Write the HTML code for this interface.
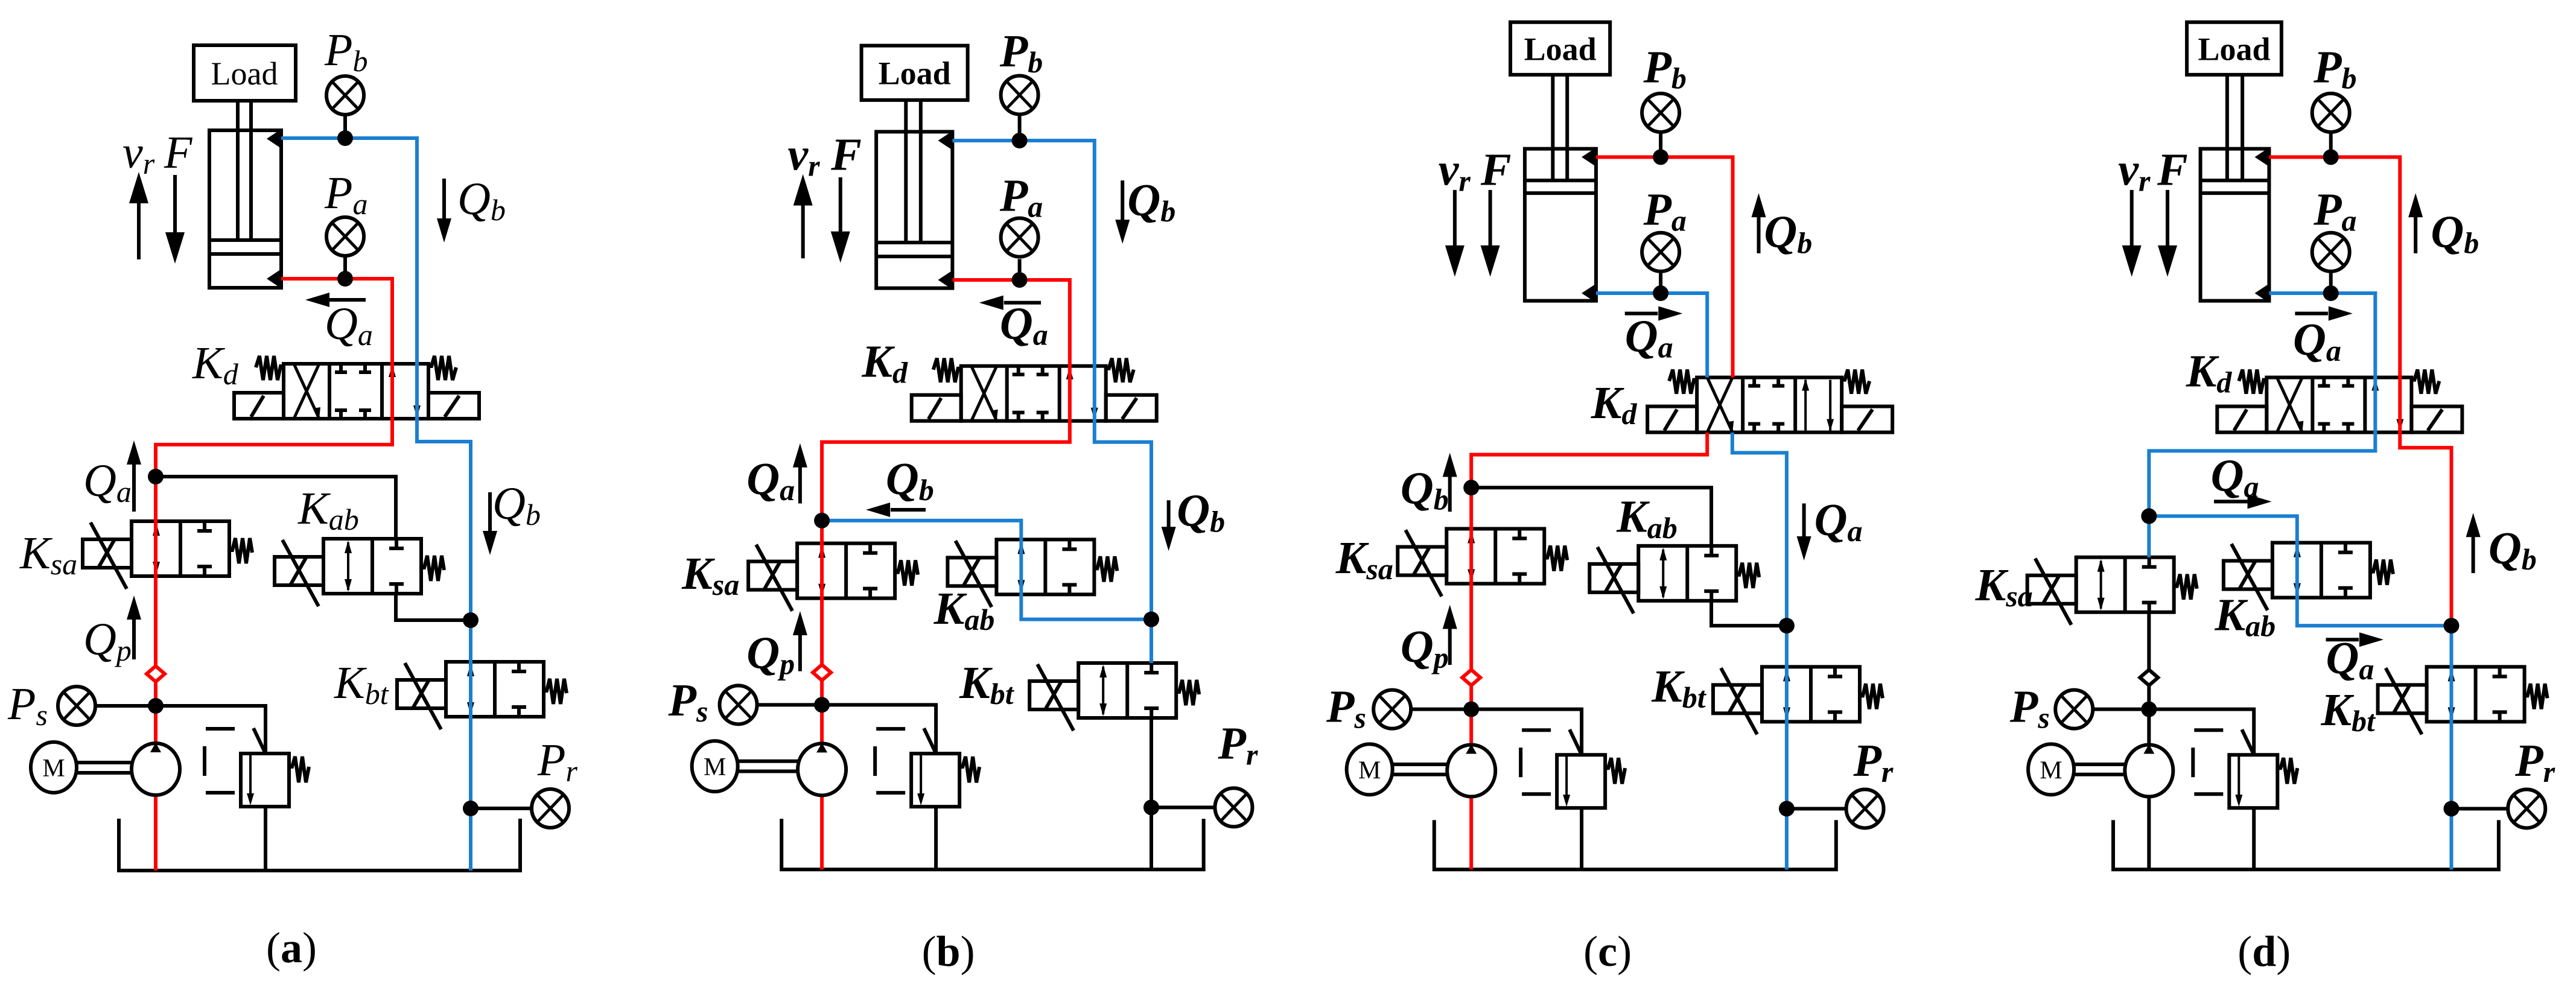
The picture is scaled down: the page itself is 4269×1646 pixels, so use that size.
<!DOCTYPE html>
<html><head><meta charset="utf-8">
<style>
html,body{margin:0;padding:0;background:#fff}
svg{display:block}
.k{fill:none;stroke:#000;stroke-width:6}
.r{fill:none;stroke:#f00;stroke-width:6}
.b{fill:none;stroke:#1b7fd1;stroke-width:6}
.z .k,.z .r,.z .b{vector-effect:non-scaling-stroke}
.L{font-family:"Liberation Serif",serif;font-style:italic;font-size:76px;fill:#000}
.z .L{font-weight:bold}
.s{font-size:50px}
.ld{font-family:"Liberation Serif",serif;font-size:54px;text-anchor:middle}
.z .ld{font-weight:bold}
.cap{font-family:"Liberation Serif",serif;font-size:72px;text-anchor:middle}
</style></head><body>
<svg width="4269" height="1646" viewBox="0 0 4269 1646" xmlns="http://www.w3.org/2000/svg">
<defs>
<g id="gauge"><ellipse rx="31" ry="32" fill="#fff" stroke="#000" stroke-width="6"/><path d="M-21,-22L21,22M21,-22L-21,22" stroke="#000" stroke-width="5"/></g>
<circle id="dot" r="13" fill="#000"/>
<g id="v2">
<rect x="0" y="0" width="162" height="91" fill="none" stroke="#000" stroke-width="6"/>
<path d="M81,0V91M121,0V16M109,16H133M121,91V75M109,75H133" stroke="#000" stroke-width="6" fill="none"/>
<path d="M41,6V85" stroke="#000" stroke-width="4"/>
<polygon points="41,3 35,24 47,24"/><polygon points="41,88 35,67 47,67"/>
<rect x="-81" y="30" width="81" height="47" fill="none" stroke="#000" stroke-width="6"/>
<path d="M-68,2L-8,112M-55,77L-28,30" stroke="#000" stroke-width="6"/>
<path d="M162,48H167L172,28L178,70L184,28L190,70L196,28L200,52" fill="none" stroke="#000" stroke-width="6"/>
</g>
<g id="kd">
<rect x="0" y="0" width="240" height="91" fill="none" stroke="#000" stroke-width="6"/>
<path d="M76,0V91M163,0V91" stroke="#000" stroke-width="6"/>
<path d="M17,0L59,91M59,0L17,91" stroke="#000" stroke-width="5"/>
<polygon points="59,91 49,74 61,72"/>
<path d="M95,0V14M85,14H105M135,0V14M125,14H145M95,91V77M85,77H105M135,91V77M125,77H145" stroke="#000" stroke-width="6" fill="none"/>
<path d="M180,4V88M221,4V88" stroke="#000" stroke-width="4"/>
<polygon points="180,2 174,22 186,22"/><polygon points="221,89 215,69 227,69"/>
<rect x="-82" y="48" width="82" height="43" fill="none" stroke="#000" stroke-width="6"/>
<rect x="240" y="48" width="84" height="43" fill="none" stroke="#000" stroke-width="6"/>
<path d="M-54,88L-33,53M267,88L291,53" stroke="#000" stroke-width="6"/>
<path d="M-46,6L-40,-13L-34,27L-28,-13L-22,27L-16,-13L-10,27L-5,4H0" fill="none" stroke="#000" stroke-width="6"/>
<path d="M240,4H245L250,-13L256,27L262,-13L268,27L274,-13L280,27L286,6" fill="none" stroke="#000" stroke-width="6"/>
</g>
<g id="pump"><ellipse rx="40" ry="43" fill="#fff" stroke="#000" stroke-width="6"/><polygon points="-9,-28 9,-28 0,-44"/></g>
<g id="motor"><ellipse rx="38" ry="42" fill="#fff" stroke="#000" stroke-width="6"/><text x="0" y="15" font-family="Liberation Serif" font-size="42" text-anchor="middle">M</text></g>
<g id="rv">
<rect x="0" y="0" width="80" height="88" fill="#fff" stroke="#000" stroke-width="6"/>
<path d="M16,2V70" stroke="#000" stroke-width="4"/><polygon points="16,86 10,66 22,66"/>
<path d="M21,-42L41,0" stroke="#000" stroke-width="6"/>
<path d="M80,22H85L90,5L96,48L102,5L108,48L113,22" fill="none" stroke="#000" stroke-width="6"/>
<path d="M-58,-41H-10M-60,-12V37M-58,65H-10" stroke="#000" stroke-width="6"/>
</g>
<path id="cvr" d="M0,-13L15,0L0,13L-15,0Z" fill="#fff" stroke="#f00" stroke-width="6"/>
<path id="cvk" d="M0,-13L15,0L0,13L-15,0Z" fill="#fff" stroke="#000" stroke-width="6"/>
<polygon id="hu" points="0,0 -12,40 12,40"/>
<polygon id="hd" points="0,0 -12,-40 12,-40"/>
<polygon id="hl" points="0,0 40,-12 40,12"/>
<polygon id="hr" points="0,0 -40,-12 -40,12"/>
<polygon id="bu" points="0,0 -16,52 16,52"/>
<polygon id="bd" points="0,0 -16,-52 16,-52"/>
</defs>

<!-- ============ PANEL A ============ -->
<g>
<rect x="321" y="75" width="169" height="92" class="k"/>
<text x="405" y="140" class="ld">Load</text>
<path class="k" d="M394,167V398M416,167V398"/>
<rect x="347" y="216" width="119" height="261" class="k"/>
<path class="k" d="M347,398H466M347,421H466"/>
<polygon points="466,214 466,246 442,230"/><polygon points="466,446 466,478 442,462"/>
<use href="#kd" x="470" y="603"/>
<use href="#v2" x="218" y="864"/>
<use href="#v2" x="536" y="893"/>
<use href="#v2" x="739" y="1097"/>
<path class="k" d="M258,790H656V893M656,984V1028H780"/>
<path class="k" d="M158,1170H440V1249"/>
<path class="k" d="M127,1264H218M127,1281H218"/>
<path class="k" d="M440,1337V1443"/>
<path class="k" d="M780,1340H881"/>
<path class="k" d="M197,1357V1443H862V1357"/>
<path class="k" d="M572,190V229M572,424V462"/>
<path class="b" d="M466,229H691V732H780V1443"/>
<path class="r" d="M466,462H650V737H258V1443"/>
<use href="#rv" x="399" y="1249"/>
<use href="#motor" x="89" y="1272"/>
<use href="#pump" x="258" y="1275"/>
<use href="#cvr" x="258" y="1117"/>
<use href="#gauge" x="572" y="158"/><use href="#gauge" x="572" y="392"/>
<use href="#gauge" x="127" y="1170"/><use href="#gauge" x="912" y="1340"/>
<use href="#dot" x="572" y="229"/><use href="#dot" x="572" y="462"/>
<use href="#dot" x="258" y="790"/><use href="#dot" x="780" y="1028"/>
<use href="#dot" x="258" y="1170"/><use href="#dot" x="780" y="1340"/>
<path class="k" d="M230,430V320M290,290V395M736,296V370M606,497H540M222,848V760M812,816V885M222,1093V1020"/>
<use href="#bu" x="230" y="285"/><use href="#bd" x="290" y="437"/>
<use href="#hd" x="736" y="402"/><use href="#hl" x="506" y="497"/>
<use href="#hu" x="222" y="730"/><use href="#hd" x="812" y="920"/><use href="#hu" x="222" y="987"/>
<text x="538" y="108" class="L">P<tspan class="s" dy="10">b</tspan></text>
<text x="538" y="345" class="L">P<tspan class="s" dy="10">a</tspan></text>
<text x="203" y="278" class="L">v<tspan class="s" dy="10">r</tspan></text>
<text x="272" y="278" class="L">F</text>
<text x="758" y="355" class="L">Q<tspan class="s" dy="10">b</tspan></text>
<text x="538" y="562" class="L">Q<tspan class="s" dy="10">a</tspan></text>
<text x="319" y="627" class="L">K<tspan class="s" dy="10">d</tspan></text>
<text x="138" y="822" class="L">Q<tspan class="s" dy="10">a</tspan></text>
<text x="494" y="868" class="L">K<tspan class="s" dy="10">ab</tspan></text>
<text x="816" y="860" class="L">Q<tspan class="s" dy="10">b</tspan></text>
<text x="33" y="942" class="L">K<tspan class="s" dy="10">sa</tspan></text>
<text x="138" y="1085" class="L">Q<tspan class="s" dy="10">p</tspan></text>
<text x="13" y="1192" class="L">P<tspan class="s" dy="10">s</tspan></text>
<text x="554" y="1157" class="L">K<tspan class="s" dy="10">bt</tspan></text>
<text x="891" y="1285" class="L">P<tspan class="s" dy="10">r</tspan></text>
<text x="483" y="1595" class="cap">(<tspan font-weight="bold">a</tspan>)</text>
</g>

<!-- ============ PANEL B ============ -->
<g class="z" transform="translate(1070,0) scale(0.6824,1.0497)">
<rect x="524" y="72" width="258" height="86" class="k"/>
<g transform="translate(653,133) scale(1.4654,0.9527)"><text class="ld">Load</text></g>
<path class="k" d="M632,158V383M668,158V383"/>
<rect x="560" y="208" width="185" height="247" class="k"/>
<path class="k" d="M560,383H745M560,405H745"/>
<polygon points="745,207 745,237 710,222"/><polygon points="745,427 745,457 710,442"/>
<use href="#kd" transform="translate(766,578) scale(1.4654,0.9527)"/>
<use href="#v2" transform="translate(368,858) scale(1.4654,0.9527)"/>
<use href="#v2" transform="translate(852,852) scale(1.4654,0.9527)"/>
<use href="#v2" transform="translate(1051,1047) scale(1.4654,0.9527)"/>
<path class="k" d="M1228,1134V1373M1228,1275H1383M268,1113H705V1190M222,1202H370M222,1218H370M705,1274V1373M330,1293V1373H1355V1293M908,183V222M908,409V442"/>
<path class="b" d="M745,222H1090V698H1228V1047M428,822H912V978H1228"/>
<path class="r" d="M745,442H1030V698H428V1373"/>
<use href="#rv" transform="translate(645,1190) scale(1.4654,0.9527)"/>
<use href="#motor" transform="translate(168,1210) scale(1.4654,0.9527)"/>
<use href="#pump" transform="translate(428,1215) scale(1.4654,0.9527)"/>
<use href="#cvr" transform="translate(428,1062) scale(1.4654,0.9527)"/>
<use href="#gauge" transform="translate(908,150) scale(1.4654,0.9527)"/>
<use href="#gauge" transform="translate(908,375) scale(1.4654,0.9527)"/>
<use href="#gauge" transform="translate(225,1113) scale(1.4654,0.9527)"/>
<use href="#gauge" transform="translate(1428,1275) scale(1.4654,0.9527)"/>
<use href="#dot" transform="translate(908,222) scale(1.4654,0.9527)"/>
<use href="#dot" transform="translate(908,442) scale(1.4654,0.9527)"/>
<use href="#dot" transform="translate(428,822) scale(1.4654,0.9527)"/>
<use href="#dot" transform="translate(1228,978) scale(1.4654,0.9527)"/>
<use href="#dot" transform="translate(428,1113) scale(1.4654,0.9527)"/>
<use href="#dot" transform="translate(1228,1275) scale(1.4654,0.9527)"/>
<path class="k" d="M382,408V300M473,280V390M1158,285V350M960,478H870M375,795V735M680,805H595M1270,790V835M375,1060V1000"/>
<use href="#bu" transform="translate(382,275) scale(1.4654,0.9527)"/>
<use href="#bd" transform="translate(473,415) scale(1.4654,0.9527)"/>
<use href="#hd" transform="translate(1158,385) scale(1.4654,0.9527)"/>
<use href="#hl" transform="translate(810,478) scale(1.4654,0.9527)"/>
<use href="#hu" transform="translate(375,700) scale(1.4654,0.9527)"/>
<use href="#hl" transform="translate(535,805) scale(1.4654,0.9527)"/>
<use href="#hd" transform="translate(1270,870) scale(1.4654,0.9527)"/>
<use href="#hu" transform="translate(375,965) scale(1.4654,0.9527)"/>
<g transform="translate(860,105) scale(1.4654,0.9527)"><text class="L">P<tspan class="s" dy="10">b</tspan></text></g>
<g transform="translate(860,333) scale(1.4654,0.9527)"><text class="L">P<tspan class="s" dy="10">a</tspan></text></g>
<g transform="translate(345,268) scale(1.4654,0.9527)"><text class="L">v<tspan class="s" dy="10">r</tspan></text></g>
<g transform="translate(450,268) scale(1.4654,0.9527)"><text class="L">F</text></g>
<g transform="translate(1170,340) scale(1.4654,0.9527)"><text class="L">Q<tspan class="s" dy="10">b</tspan></text></g>
<g transform="translate(860,535) scale(1.4654,0.9527)"><text class="L">Q<tspan class="s" dy="10">a</tspan></text></g>
<g transform="translate(525,595) scale(1.4654,0.9527)"><text class="L">K<tspan class="s" dy="10">d</tspan></text></g>
<g transform="translate(245,780) scale(1.4654,0.9527)"><text class="L">Q<tspan class="s" dy="10">a</tspan></text></g>
<g transform="translate(583,780) scale(1.4654,0.9527)"><text class="L">Q<tspan class="s" dy="10">b</tspan></text></g>
<g transform="translate(1290,830) scale(1.4654,0.9527)"><text class="L">Q<tspan class="s" dy="10">b</tspan></text></g>
<g transform="translate(88,930) scale(1.4654,0.9527)"><text class="L">K<tspan class="s" dy="10">sa</tspan></text></g>
<g transform="translate(700,985) scale(1.4654,0.9527)"><text class="L">K<tspan class="s" dy="10">ab</tspan></text></g>
<g transform="translate(245,1055) scale(1.4654,0.9527)"><text class="L">Q<tspan class="s" dy="10">p</tspan></text></g>
<g transform="translate(55,1130) scale(1.4654,0.9527)"><text class="L">P<tspan class="s" dy="10">s</tspan></text></g>
<g transform="translate(762,1102) scale(1.4654,0.9527)"><text class="L">K<tspan class="s" dy="10">bt</tspan></text></g>
<g transform="translate(1390,1198) scale(1.4654,0.9527)"><text class="L">P<tspan class="s" dy="10">r</tspan></text></g>
<g transform="translate(735,1525) scale(1.4654,0.9527)"><text class="cap">(<tspan font-weight="bold">b</tspan>)</text></g>
</g>

<!-- ============ PANEL C ============ -->
<g class="z" transform="translate(2140,0) scale(0.6824,1.0497)">
<rect x="532" y="35" width="242" height="83" class="k"/>
<g transform="translate(653,95) scale(1.4654,0.9527)"><text class="ld">Load</text></g>
<path class="k" d="M635,118V285M670,118V285"/>
<rect x="567" y="235" width="173" height="240" class="k"/>
<path class="k" d="M567,285H740M567,305H740"/>
<polygon points="740,233 740,263 705,248"/><polygon points="740,448 740,478 705,463"/>
<use href="#kd" transform="translate(985,596) scale(1.4654,0.9527)"/>
<use href="#v2" transform="translate(377,835) scale(1.4654,0.9527)"/>
<use href="#v2" transform="translate(843,862) scale(1.4654,0.9527)"/>
<use href="#v2" transform="translate(1143,1053) scale(1.4654,0.9527)"/>
<path class="k" d="M437,770H1020V862M1020,949V988H1203M290,1120H705V1192M246,1207H378M246,1223H378M705,1276V1373M347,1295V1373H1323V1295M1203,1277H1348M897,210V248M897,430V463"/>
<path class="r" d="M740,248H1072V596M1010,683V718H437V1373"/>
<path class="b" d="M740,463H1010V596M1071,683V715H1203V1373"/>
<use href="#rv" transform="translate(645,1192) scale(1.4654,0.9527)"/>
<use href="#motor" transform="translate(190,1215) scale(1.4654,0.9527)"/>
<use href="#pump" transform="translate(437,1217) scale(1.4654,0.9527)"/>
<use href="#cvr" transform="translate(437,1070) scale(1.4654,0.9527)"/>
<use href="#gauge" transform="translate(897,178) scale(1.4654,0.9527)"/>
<use href="#gauge" transform="translate(897,398) scale(1.4654,0.9527)"/>
<use href="#gauge" transform="translate(245,1120) scale(1.4654,0.9527)"/>
<use href="#gauge" transform="translate(1393,1277) scale(1.4654,0.9527)"/>
<use href="#dot" transform="translate(897,248) scale(1.4654,0.9527)"/>
<use href="#dot" transform="translate(897,463) scale(1.4654,0.9527)"/>
<use href="#dot" transform="translate(437,770) scale(1.4654,0.9527)"/>
<use href="#dot" transform="translate(1203,988) scale(1.4654,0.9527)"/>
<use href="#dot" transform="translate(437,1120) scale(1.4654,0.9527)"/>
<use href="#dot" transform="translate(1203,1277) scale(1.4654,0.9527)"/>
<path class="k" d="M397,300V400M483,300V400M1135,400V343M810,495H890M385,808V753M1245,795V847M385,1050V993"/>
<use href="#bd" transform="translate(397,437) scale(1.4654,0.9527)"/>
<use href="#bd" transform="translate(483,437) scale(1.4654,0.9527)"/>
<use href="#hu" transform="translate(1135,305) scale(1.4654,0.9527)"/>
<use href="#hr" transform="translate(950,495) scale(1.4654,0.9527)"/>
<use href="#hu" transform="translate(385,715) scale(1.4654,0.9527)"/>
<use href="#hd" transform="translate(1245,885) scale(1.4654,0.9527)"/>
<use href="#hu" transform="translate(385,955) scale(1.4654,0.9527)"/>
<g transform="translate(855,130) scale(1.4654,0.9527)"><text class="L">P<tspan class="s" dy="10">b</tspan></text></g>
<g transform="translate(855,355) scale(1.4654,0.9527)"><text class="L">P<tspan class="s" dy="10">a</tspan></text></g>
<g transform="translate(357,292) scale(1.4654,0.9527)"><text class="L">v<tspan class="s" dy="10">r</tspan></text></g>
<g transform="translate(460,292) scale(1.4654,0.9527)"><text class="L">F</text></g>
<g transform="translate(1148,390) scale(1.4654,0.9527)"><text class="L">Q<tspan class="s" dy="10">b</tspan></text></g>
<g transform="translate(810,555) scale(1.4654,0.9527)"><text class="L">Q<tspan class="s" dy="10">a</tspan></text></g>
<g transform="translate(728,660) scale(1.4654,0.9527)"><text class="L">K<tspan class="s" dy="10">d</tspan></text></g>
<g transform="translate(265,795) scale(1.4654,0.9527)"><text class="L">Q<tspan class="s" dy="10">b</tspan></text></g>
<g transform="translate(108,905) scale(1.4654,0.9527)"><text class="L">K<tspan class="s" dy="10">sa</tspan></text></g>
<g transform="translate(790,840) scale(1.4654,0.9527)"><text class="L">K<tspan class="s" dy="10">ab</tspan></text></g>
<g transform="translate(1270,845) scale(1.4654,0.9527)"><text class="L">Q<tspan class="s" dy="10">a</tspan></text></g>
<g transform="translate(265,1045) scale(1.4654,0.9527)"><text class="L">Q<tspan class="s" dy="10">p</tspan></text></g>
<g transform="translate(85,1140) scale(1.4654,0.9527)"><text class="L">P<tspan class="s" dy="10">s</tspan></text></g>
<g transform="translate(875,1108) scale(1.4654,0.9527)"><text class="L">K<tspan class="s" dy="10">bt</tspan></text></g>
<g transform="translate(1365,1225) scale(1.4654,0.9527)"><text class="L">P<tspan class="s" dy="10">r</tspan></text></g>
<g transform="translate(768,1525) scale(1.4654,0.9527)"><text class="cap">(<tspan font-weight="bold">c</tspan>)</text></g>
</g>

<!-- ============ PANEL D ============ -->
<g class="z" transform="translate(3200,0) scale(0.6818,1.0497)">
<rect x="622" y="35" width="230" height="83" class="k"/>
<g transform="translate(737,95) scale(1.4668,0.9527)"><text class="ld">Load</text></g>
<path class="k" d="M720,118V285M757,118V285"/>
<rect x="655" y="235" width="167" height="240" class="k"/>
<path class="k" d="M655,285H822M655,305H822"/>
<polygon points="822,233 822,263 787,248"/><polygon points="822,448 822,478 787,463"/>
<use href="#kd" transform="translate(816,596) scale(1.4668,0.9527)"/>
<use href="#v2" transform="translate(353,880) scale(1.4668,0.9527)"/>
<use href="#v2" transform="translate(830,857) scale(1.4668,0.9527)"/>
<use href="#v2" transform="translate(1205,1053) scale(1.4668,0.9527)"/>
<path class="k" d="M530,967V1373M393,1120H785V1192M348,1207H472M348,1223H472M785,1276V1373M443,1295V1373H1380V1295M1265,1277H1403M972,210V248M972,430V463"/>
<path class="r" d="M822,248H1140V707H1265V988"/>
<path class="b" d="M822,463H1080V712H530V880M530,815H890V988H1265V1373"/>
<use href="#rv" transform="translate(725,1192) scale(1.4668,0.9527)"/>
<use href="#motor" transform="translate(292,1215) scale(1.4668,0.9527)"/>
<use href="#pump" transform="translate(530,1217) scale(1.4668,0.9527)"/>
<use href="#cvk" transform="translate(530,1070) scale(1.4668,0.9527)"/>
<use href="#gauge" transform="translate(972,178) scale(1.4668,0.9527)"/>
<use href="#gauge" transform="translate(972,398) scale(1.4668,0.9527)"/>
<use href="#gauge" transform="translate(348,1120) scale(1.4668,0.9527)"/>
<use href="#gauge" transform="translate(1448,1277) scale(1.4668,0.9527)"/>
<use href="#dot" transform="translate(972,248) scale(1.4668,0.9527)"/>
<use href="#dot" transform="translate(972,463) scale(1.4668,0.9527)"/>
<use href="#dot" transform="translate(530,815) scale(1.4668,0.9527)"/>
<use href="#dot" transform="translate(1265,988) scale(1.4668,0.9527)"/>
<use href="#dot" transform="translate(530,1120) scale(1.4668,0.9527)"/>
<use href="#dot" transform="translate(1265,1277) scale(1.4668,0.9527)"/>
<path class="k" d="M488,300V400M575,300V400M1178,400V343M885,495H965M688,792H770M1318,905V848M960,1010H1040"/>
<use href="#bd" transform="translate(488,437) scale(1.4668,0.9527)"/>
<use href="#bd" transform="translate(575,437) scale(1.4668,0.9527)"/>
<use href="#hu" transform="translate(1178,305) scale(1.4668,0.9527)"/>
<use href="#hr" transform="translate(1025,495) scale(1.4668,0.9527)"/>
<use href="#hr" transform="translate(828,792) scale(1.4668,0.9527)"/>
<use href="#hu" transform="translate(1318,810) scale(1.4668,0.9527)"/>
<use href="#hr" transform="translate(1100,1010) scale(1.4668,0.9527)"/>
<g transform="translate(930,130) scale(1.4668,0.9527)"><text class="L">P<tspan class="s" dy="10">b</tspan></text></g>
<g transform="translate(930,355) scale(1.4668,0.9527)"><text class="L">P<tspan class="s" dy="10">a</tspan></text></g>
<g transform="translate(455,292) scale(1.4668,0.9527)"><text class="L">v<tspan class="s" dy="10">r</tspan></text></g>
<g transform="translate(550,292) scale(1.4668,0.9527)"><text class="L">F</text></g>
<g transform="translate(1215,390) scale(1.4668,0.9527)"><text class="L">Q<tspan class="s" dy="10">b</tspan></text></g>
<g transform="translate(880,560) scale(1.4668,0.9527)"><text class="L">Q<tspan class="s" dy="10">a</tspan></text></g>
<g transform="translate(620,610) scale(1.4668,0.9527)"><text class="L">K<tspan class="s" dy="10">d</tspan></text></g>
<g transform="translate(680,775) scale(1.4668,0.9527)"><text class="L">Q<tspan class="s" dy="10">a</tspan></text></g>
<g transform="translate(1355,890) scale(1.4668,0.9527)"><text class="L">Q<tspan class="s" dy="10">b</tspan></text></g>
<g transform="translate(108,948) scale(1.4668,0.9527)"><text class="L">K<tspan class="s" dy="10">sa</tspan></text></g>
<g transform="translate(690,995) scale(1.4668,0.9527)"><text class="L">K<tspan class="s" dy="10">ab</tspan></text></g>
<g transform="translate(960,1063) scale(1.4668,0.9527)"><text class="L">Q<tspan class="s" dy="10">a</tspan></text></g>
<g transform="translate(948,1145) scale(1.4668,0.9527)"><text class="L">K<tspan class="s" dy="10">bt</tspan></text></g>
<g transform="translate(192,1140) scale(1.4668,0.9527)"><text class="L">P<tspan class="s" dy="10">s</tspan></text></g>
<g transform="translate(1420,1225) scale(1.4668,0.9527)"><text class="L">P<tspan class="s" dy="10">r</tspan></text></g>
<g transform="translate(810,1525) scale(1.4668,0.9527)"><text class="cap">(<tspan font-weight="bold">d</tspan>)</text></g>
</g>
</svg>
</body></html>
